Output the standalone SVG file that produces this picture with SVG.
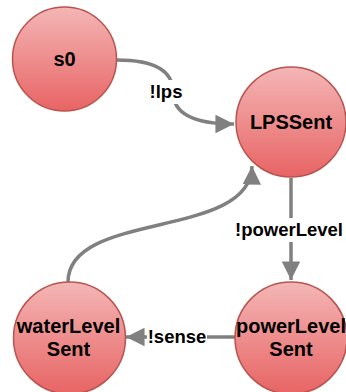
<svg xmlns="http://www.w3.org/2000/svg" width="346" height="392" viewBox="0 0 346 392">
<defs>
<linearGradient id="g" x1="0" y1="0" x2="0" y2="1">
<stop offset="0" stop-color="#f4b6b6"/>
<stop offset="1" stop-color="#e86464"/>
</linearGradient>
<marker id="arr" viewBox="0 0 10 10" refX="10" refY="5" markerWidth="5.3" markerHeight="5.3" orient="auto" markerUnits="strokeWidth">
<path d="M0,0 L10,5 L0,10 Z" fill="#808080"/>
</marker>
<style>
.n{fill:url(#g);stroke:#b85450;stroke-width:1.5}
.t{font-family:"Liberation Sans",Arial,sans-serif;font-weight:bold;font-size:20px;fill:#000;text-anchor:middle}
.e{fill:none;stroke:#808080;stroke-width:3.5;marker-end:url(#arr)}
.l{font-family:"Liberation Sans",Arial,sans-serif;font-weight:bold;font-size:18.5px;fill:#000;text-anchor:middle}
.lb{fill:#fff}
</style>
</defs>
<g id="edges">
<path class="e" d="M117,60 Q173,60 173,92 Q173,124 234,124"/>
<path class="e" d="M291,178 L291,280"/>
<path class="e" d="M235,337 L126,337"/>
<path class="e" d="M68,282 C68,210 251,240 252,166"/>
<rect class="lb" x="145" y="80" width="44" height="24"/>
<text class="l" x="166" y="98">!lps</text>
<rect class="lb" x="235" y="218" width="110" height="24"/>
<text class="l" x="289" y="236">!powerLevel</text>
<rect class="lb" x="147" y="326" width="60" height="22"/>
<text class="l" x="177" y="343">!sense</text>
</g>
<g id="s0">
<circle class="n" cx="64.5" cy="59" r="52"/>
<text class="t" x="64.5" y="66">s0</text>
</g>
<g id="LPSSent">
<circle class="n" cx="291" cy="122" r="55"/>
<text class="t" x="291" y="129">LPSSent</text>
</g>
<g id="waterLevelSent">
<circle class="n" cx="69.5" cy="338" r="56"/>
<text class="t" x="68.5" y="333">waterLevel</text>
<text class="t" x="68.5" y="356">Sent</text>
</g>
<g id="powerLevelSent">
<circle class="n" cx="291" cy="338" r="56"/>
<text class="t" x="291" y="333">powerLevel</text>
<text class="t" x="291" y="356">Sent</text>
</g>
</svg>
